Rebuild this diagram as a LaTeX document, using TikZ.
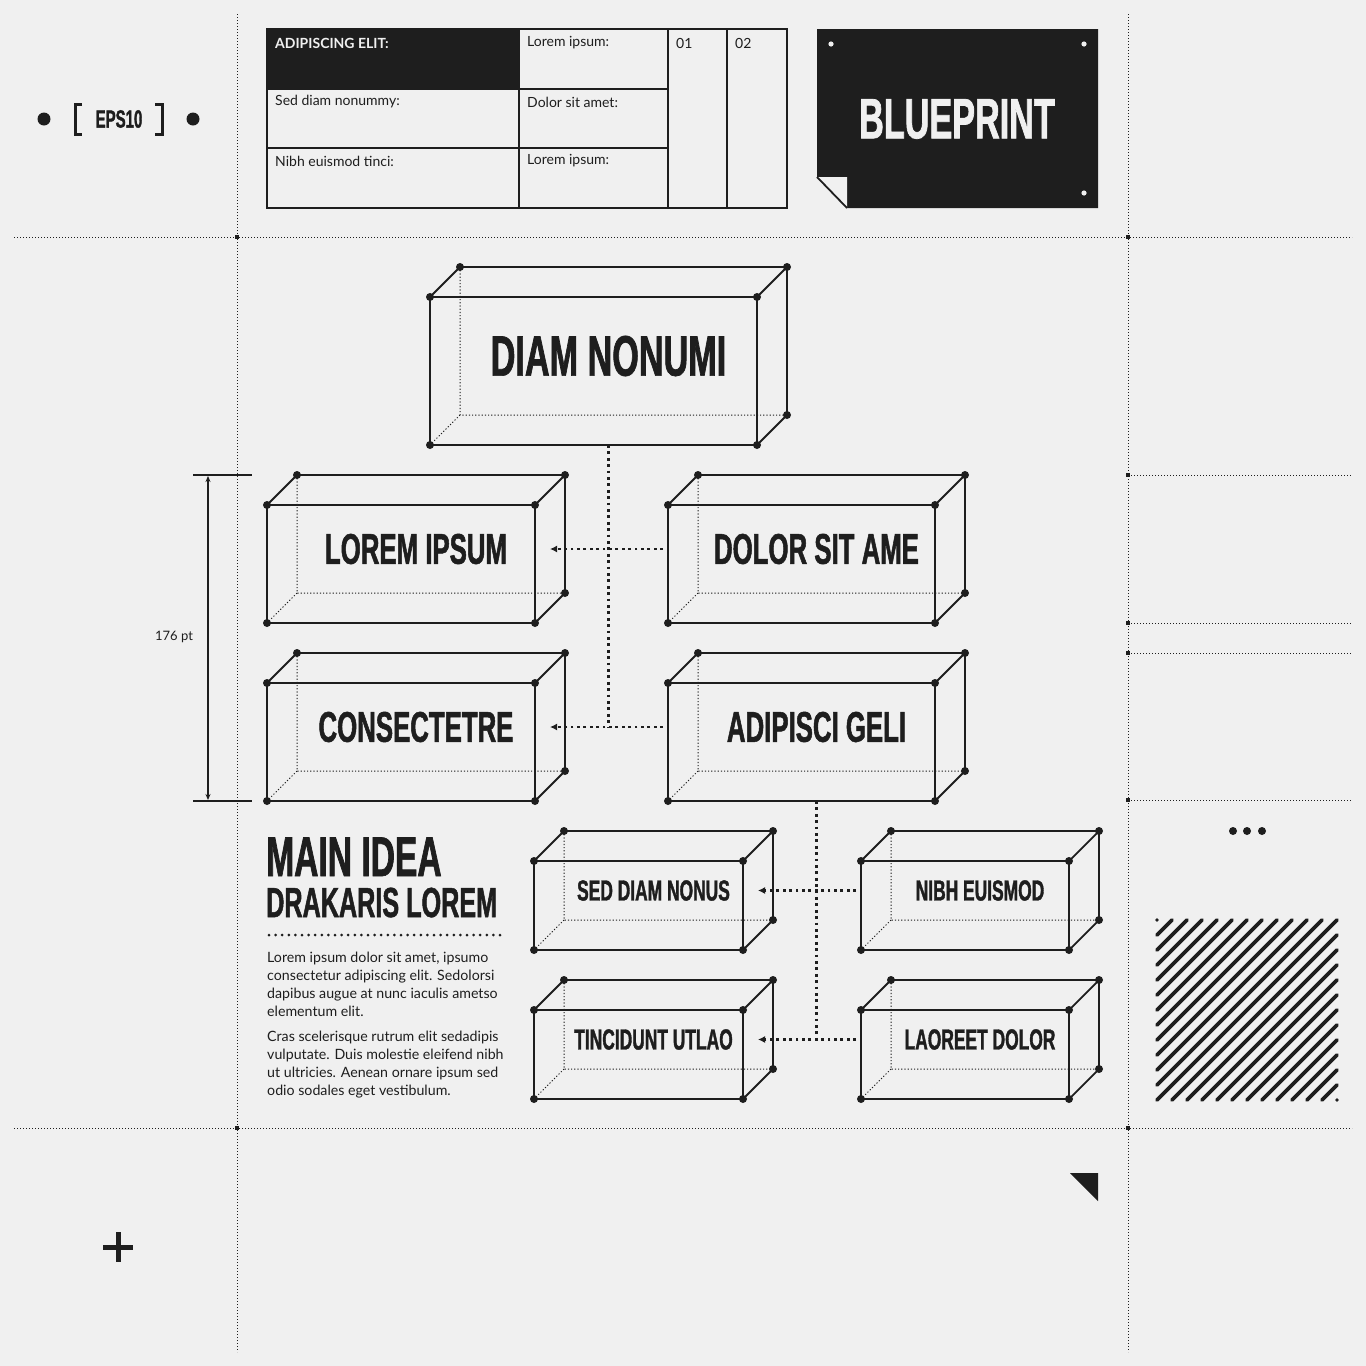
\documentclass[tikz,border=0pt]{standalone}
\usepackage{fontspec}
\setmainfont{Lato}
\newfontfamily\headfont[FakeStretch=0.6, FakeBold=1.2]{Liberation Sans}
\usetikzlibrary{arrows.meta}
\definecolor{ink}{HTML}{1E1E1E}
\definecolor{paper}{HTML}{F0F0F0}
\newcommand{\hfont}[1]{\headfont\bfseries\fontsize{#1}{#1}\selectfont}
% front face as a node, back edges drawn from its anchors
\newcommand{\cuboid}[6]{%
    \node[face, minimum width=#3, minimum height=#4] (#1) at #2 {};
    \path (#1.north west) ++(30,-30) coordinate (#1-a)
          (#1.north east) ++(30,-30) coordinate (#1-b)
          (#1.south east) ++(30,-30) coordinate (#1-c)
          (#1.south west) ++(30,-30) coordinate (#1-d)
          (#1.center) ++(15,-15) coordinate (#1-m)
          (#1.west) ++(-5,-15) coordinate (#1-in)
          (#1.east) ++(15,-15) coordinate (#1-out);
    \draw[hiddenedge] (#1-a) -- (#1-d) -- (#1-c) (#1-d) -- (#1.south west);
    \draw[solidedge] (#1.north west) -- (#1-a) -- (#1-b) -- (#1-c) -- (#1.south east)
                     (#1.north east) -- (#1-b);
    \foreach \k in {north west,north east,south east,south west}
        \fill[ink] (#1.\k) circle (4);
    \foreach \k in {a,b,c}
        \fill[ink] (#1-\k) circle (4);
    \node[boxtitle, font=\hfont{#5}] (#1-t) at (#1-m) {#6};
}

\begin{document}
\begin{tikzpicture}[
        x=1pt,
        y=-1pt,
        face/.style={draw=ink, line width=1.8pt, inner sep=0pt, outer sep=0pt},
        solidedge/.style={draw=ink, line width=1.8pt, line join=round},
        hiddenedge/.style={draw=ink, line width=1pt, dash pattern=on 1.2pt off 2pt},
        boxtitle/.style={text=ink, inner sep=0pt},
        linkline/.style={draw=ink, line width=2.8pt, dash pattern=on 2.8pt off 3.6pt},
        gridline/.style={draw=ink, line width=1pt, dash pattern=on 1.1pt off 1.9pt},
        cell/.style={anchor=west, inner sep=0pt, text=ink, font=\fontsize{14}{16}\selectfont},
        body/.style={anchor=north west, inner sep=0pt, align=left, text=ink,
            font=\fontsize{14.2}{18}\selectfont},
        hatch/.style={draw=ink, line width=3.6pt, line cap=round}
    ]
    \fill[paper] (0,0) rectangle (1366,1366);

    % grid
    \draw[gridline] (237,14) -- (237,1352);
    \draw[gridline] (1128,14) -- (1128,1352);
    \draw[gridline] (14,237) -- (1352,237);
    \draw[gridline] (14,1128) -- (1352,1128);
    \foreach \y in {475,623,653,800}
        \draw[gridline] (1128,\y) -- (1352,\y);
    \foreach \p in {(237,237),(1128,237),(237,1128),(1128,1128),(1128,475),(1128,623),(1128,653),(1128,800)}
        \fill[ink] \p +(-1.8,-1.8) rectangle +(1.8,1.8);

    % eps tag
    \fill[ink] (44,119) circle (6.5);
    \fill[ink] (193,119) circle (6.5);
    \draw[ink, line width=3pt] (82,104) -- (75,104) -- (75,134) -- (82,134);
    \draw[ink, line width=3pt] (155,104) -- (162,104) -- (162,134) -- (155,134);
    \node[boxtitle, font=\hfont{25}] (eps) at (119,119) {EPS10};

    % table
    \fill[ink] (267,29) rectangle (519,89);
    \draw[ink, line width=1.8pt] (267,29) rectangle (787,208)
        (267,89) -- (668,89) (267,148) -- (668,148)
        (519,29) -- (519,208) (668,29) -- (668,208) (727,29) -- (727,208);
    \node[cell, text=paper, font=\bfseries\fontsize{14}{16}\selectfont] (c11) at (275,43) {ADIPISCING ELIT:};
    \node[cell] (c21) at (275,102) {Sed diam nonummy:};
    \node[cell] (c31) at (275,161) {Nibh euismod tinci:};
    \node[cell] (c12) at (527,43) {Lorem ipsum:};
    \node[cell] (c22) at (527,102) {Dolor sit amet:};
    \node[cell] (c32) at (527,161) {Lorem ipsum:};
    \node[cell] (c13) at (676,43) {01};
    \node[cell] (c14) at (735,43) {02};

    % blueprint sticker
    \fill[ink] (817,29) -- (1098,29) -- (1098,208) -- (847,208) -- (817,177) -- cycle;
    \fill[paper] (817,177) -- (847,177) -- (847,208) -- cycle;
    \draw[ink, line width=1.8pt] (817,177) -- (847,208);
    \foreach \p in {(831,44),(1084,44),(1084,193)}
        \fill[paper] \p circle (2.6);
    \node[boxtitle, text=paper, font=\hfont{57}] (blueprint) at (957,119) {BLUEPRINT};

    % boxes
    \cuboid{diam}{(593.5,371)}{327pt}{148pt}{57}{DIAM NONUMI}
    \cuboid{lorem}{(401,564)}{268pt}{118pt}{43}{LOREM IPSUM}
    \cuboid{dolor}{(801.5,564)}{267pt}{118pt}{43}{DOLOR SIT AME}
    \cuboid{consect}{(401,742)}{268pt}{118pt}{43}{CONSECTETRE}
    \cuboid{adipisci}{(801.5,742)}{267pt}{118pt}{43}{ADIPISCI GELI}
    \cuboid{sed}{(638.5,905.5)}{209pt}{89pt}{29}{SED DIAM NONUS}
    \cuboid{nibh}{(965,905.5)}{208pt}{89pt}{29}{NIBH EUISMOD}
    \cuboid{tinc}{(638.5,1054.5)}{209pt}{89pt}{29}{TINCIDUNT UTLAO}
    \cuboid{laoreet}{(965,1054.5)}{208pt}{89pt}{29}{LAOREET DOLOR}

    % links
    \draw[linkline] (diam.south -| diam-m) -- (diam-m |- consect-m);
    \draw[linkline, -{Latex[length=7pt, width=7pt]}] (dolor-in) -- (lorem-out);
    \draw[linkline, -{Latex[length=7pt, width=7pt]}] (adipisci-in) -- (consect-out);
    \draw[linkline] (adipisci.south -| adipisci-m) -- (adipisci-m |- tinc-m);
    \draw[linkline, -{Latex[length=7pt, width=7pt]}] (nibh-in) -- (sed-out);
    \draw[linkline, -{Latex[length=7pt, width=7pt]}] (laoreet-in) -- (tinc-out);

    % dimension
    \draw[ink, line width=1.2pt] (193,475) -- (252,475) (193,801) -- (252,801);
    \draw[ink, line width=1.2pt, {Stealth[length=6pt, width=5pt]}-{Stealth[length=6pt, width=5pt]}] (208,476) -- (208,800);
    \node[boxtitle, font=\fontsize{13}{14}\selectfont] (dim) at (174,637) {176 pt};

    % main idea
    \node[boxtitle, anchor=base west, font=\hfont{56}] (idea) at (266,876) {MAIN IDEA};
    \node[boxtitle, anchor=base west, font=\hfont{42}] (drak) at (266,917) {DRAKARIS LOREM};
    \draw[ink, line width=3pt, line cap=round, dash pattern=on 0pt off 6.6pt] (269,935) -- (505,935);
    \node[body] (para1) at (267,952) {Lorem ipsum dolor sit amet, ipsumo\\consectetur adipiscing elit. Sedolorsi\\dapibus augue at nunc iaculis ametso\\elementum elit.};
    \node[body] (para2) at (267,1031) {Cras scelerisque rutrum elit sedadipis\\vulputate. Duis molestie eleifend nibh\\ut ultricies. Aenean ornare ipsum sed\\odio sodales eget vestibulum.};

    % right column
    \foreach \x in {1233,1247,1262}
        \fill[ink] (\x,831) circle (4);
    \foreach \c in {0,15,...,360} {
        \pgfmathsetmacro\xa{max(1157,977+\c)}
        \pgfmathsetmacro\xb{min(1337,1157+\c)}
        \draw[hatch] (\xa,{2077+\c-\xa}) -- (\xb,{2077+\c-\xb});
    }

    % corner marks
    \draw[ink, line width=5pt] (103,1247) -- (133,1247) (118,1232) -- (118,1262);
    \fill[ink] (1070,1173) -- (1098,1173) -- (1098,1201) -- cycle;
\end{tikzpicture}
\end{document}
